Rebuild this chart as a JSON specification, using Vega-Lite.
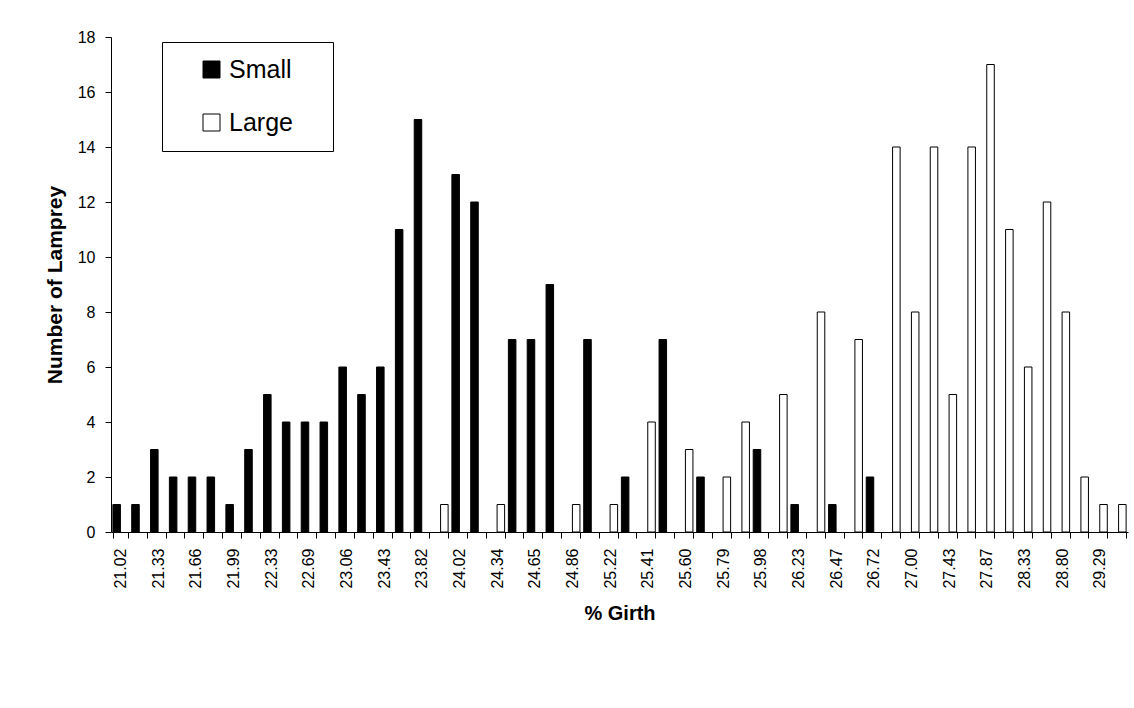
{
  "$schema": "https://vega.github.io/schema/vega-lite/v6.json",
  "width": 1017,
  "height": 495,
  "autosize": {"type": "none"},
  "padding": {"left": 111, "top": 37, "right": 6, "bottom": 176},
  "background": "white",
  "config": {
    "font": "Liberation Sans",
    "view": {"stroke": null},
    "legend": {"strokeColor": "black", "fillColor": "white"}
  },
  "data": {
    "values": [
      {"girth": "21.02", "size": "Small", "count": 1},
      {"girth": "21.17", "size": "Small", "count": 1},
      {"girth": "21.33", "size": "Small", "count": 3},
      {"girth": "21.50", "size": "Small", "count": 2},
      {"girth": "21.66", "size": "Small", "count": 2},
      {"girth": "21.83", "size": "Small", "count": 2},
      {"girth": "21.99", "size": "Small", "count": 1},
      {"girth": "22.16", "size": "Small", "count": 3},
      {"girth": "22.33", "size": "Small", "count": 5},
      {"girth": "22.51", "size": "Small", "count": 4},
      {"girth": "22.69", "size": "Small", "count": 4},
      {"girth": "22.87", "size": "Small", "count": 4},
      {"girth": "23.06", "size": "Small", "count": 6},
      {"girth": "23.24", "size": "Small", "count": 5},
      {"girth": "23.43", "size": "Small", "count": 6},
      {"girth": "23.62", "size": "Small", "count": 11},
      {"girth": "23.82", "size": "Small", "count": 15},
      {"girth": "23.92", "size": "Large", "count": 1},
      {"girth": "24.02", "size": "Small", "count": 13},
      {"girth": "24.18", "size": "Small", "count": 12},
      {"girth": "24.34", "size": "Large", "count": 1},
      {"girth": "24.50", "size": "Small", "count": 7},
      {"girth": "24.65", "size": "Small", "count": 7},
      {"girth": "24.76", "size": "Small", "count": 9},
      {"girth": "24.86", "size": "Large", "count": 1},
      {"girth": "25.04", "size": "Small", "count": 7},
      {"girth": "25.22", "size": "Large", "count": 1},
      {"girth": "25.32", "size": "Small", "count": 2},
      {"girth": "25.41", "size": "Large", "count": 4},
      {"girth": "25.51", "size": "Small", "count": 7},
      {"girth": "25.60", "size": "Large", "count": 3},
      {"girth": "25.70", "size": "Small", "count": 2},
      {"girth": "25.79", "size": "Large", "count": 2},
      {"girth": "25.89", "size": "Large", "count": 4},
      {"girth": "25.98", "size": "Small", "count": 3},
      {"girth": "26.11", "size": "Large", "count": 5},
      {"girth": "26.23", "size": "Small", "count": 1},
      {"girth": "26.35", "size": "Large", "count": 8},
      {"girth": "26.47", "size": "Small", "count": 1},
      {"girth": "26.60", "size": "Large", "count": 7},
      {"girth": "26.72", "size": "Small", "count": 2},
      {"girth": "26.86", "size": "Large", "count": 14},
      {"girth": "27.00", "size": "Large", "count": 8},
      {"girth": "27.21", "size": "Large", "count": 14},
      {"girth": "27.43", "size": "Large", "count": 5},
      {"girth": "27.65", "size": "Large", "count": 14},
      {"girth": "27.87", "size": "Large", "count": 17},
      {"girth": "28.10", "size": "Large", "count": 11},
      {"girth": "28.33", "size": "Large", "count": 6},
      {"girth": "28.56", "size": "Large", "count": 12},
      {"girth": "28.80", "size": "Large", "count": 8},
      {"girth": "29.04", "size": "Large", "count": 2},
      {"girth": "29.29", "size": "Large", "count": 1},
      {"girth": "29.54", "size": "Large", "count": 1}
    ]
  },
  "mark": {"type": "bar", "stroke": "black", "strokeWidth": 1},
  "encoding": {
    "x": {
      "field": "girth",
      "type": "nominal",
      "sort": null,
      "scale": {"paddingInner": 0.2, "paddingOuter": 0.1},
      "axis": {
        "title": "% Girth",
        "titleFontSize": 20,
        "titleFontWeight": "bold",
        "titleColor": "black",
        "titlePadding": 15,
        "labelAngle": -90,
        "labelFontSize": 16,
        "labelColor": "black",
        "labelPadding": 10,
        "labelOverlap": false,
        "labelExpr": "round(datum.index * 53) % 2 == 0 ? datum.label : ''",
        "tickBand": "extent",
        "tickSize": 6,
        "tickColor": "black",
        "domainColor": "black"
      }
    },
    "xOffset": {
      "field": "size",
      "type": "nominal",
      "scale": {"domain": ["Small", "Large"], "paddingInner": 0, "paddingOuter": 0}
    },
    "y": {
      "field": "count",
      "type": "quantitative",
      "scale": {"domain": [0, 18], "nice": false},
      "axis": {
        "title": "Number of Lamprey",
        "titleFontSize": 21,
        "titleFontWeight": "bold",
        "titleColor": "black",
        "titlePadding": 12,
        "values": [0, 2, 4, 6, 8, 10, 12, 14, 16, 18],
        "labelFontSize": 16,
        "labelColor": "black",
        "labelPadding": 10,
        "tickSize": 6,
        "tickColor": "black",
        "domainColor": "black",
        "grid": false
      }
    },
    "color": {
      "field": "size",
      "type": "nominal",
      "scale": {"domain": ["Small", "Large"], "range": ["#000000", "#ffffff"]},
      "legend": {
        "title": null,
        "orient": "none",
        "legendX": 51,
        "legendY": 5,
        "symbolType": "square",
        "symbolSize": 289,
        "symbolStrokeColor": "black",
        "symbolStrokeWidth": 1,
        "labelFontSize": 25,
        "labelColor": "black",
        "labelOffset": 5,
        "labelLimit": 300,
        "rowPadding": 27,
        "padding": 15,
        "symbolOffset": 22,
        "labelExpr": "datum.label + '\u00a0\u2800'"
      }
    }
  }
}
